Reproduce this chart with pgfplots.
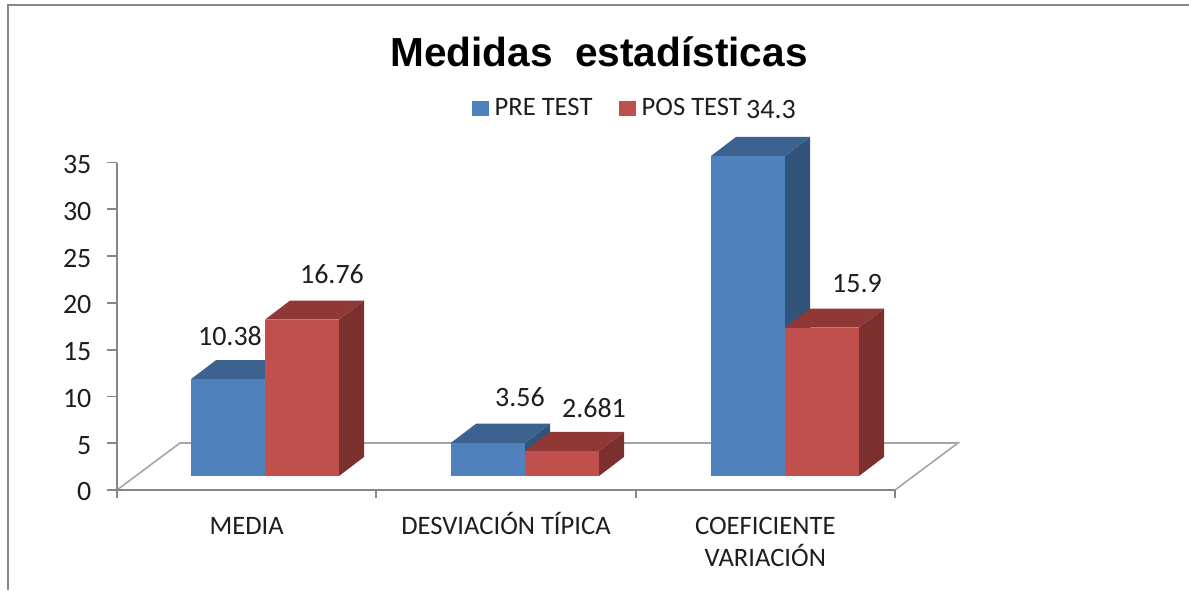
\documentclass[border=0pt]{standalone}
\usepackage{pgfplots}
\pgfplotsset{compat=1.18}
\usepackage{fontspec}
\setmainfont{Carlito}
\newfontfamily\titlefont{Liberation Sans}
\definecolor{axisgray}{RGB}{134,134,134}
\definecolor{floorgray}{RGB}{165,165,165}
\definecolor{txt}{RGB}{30,30,30}
\definecolor{bf}{RGB}{79,129,189}
\definecolor{bt}{RGB}{60,98,144}
\definecolor{bs}{RGB}{50,83,122}
\definecolor{rf}{RGB}{192,80,77}
\definecolor{rt}{RGB}{143,56,54}
\definecolor{rs}{RGB}{123,48,46}
\begin{document}
\begin{tikzpicture}
% frame and wall of the floor (first layer), data in pixels horizontally and value units vertically
\begin{axis}[name=page,at={(0pt,0pt)},anchor=south west,scale only axis,width=594.5pt,height=295pt,
  xmin=0,xmax=1189,ymin=-12.22,ymax=51.02,hide axis,clip=true]
\path (axis cs:0,-12.22) rectangle (axis cs:1189,51.02);
\addplot[axisgray,line width=1pt,forget plot] coordinates {(8.2,-12.22)(8.2,50.45)(1189,50.45)};
\addplot[floorgray,line width=0.8pt,forget plot] coordinates {(117,-1.5)(180,3.54)(958,3.54)(895,-1.5)};
\end{axis}
\begin{axis}[at={(58.5pt,50pt)},anchor=south west,scale only axis,width=389pt,height=163.75pt,
  xmin=0,xmax=3,ymin=0,ymax=35,axis x line=bottom,axis y line=left,
  axis line style={axisgray,line width=1pt,-},
  every tick/.style={axisgray,line width=0.9pt},
  tick align=outside,major tick length=4.75pt,
  ytick={0,5,10,15,20,25,30,35},xtick={0.5,1.5,2.5},
  xticklabels={\strut MEDIA,\strut DESVIACIÓN TÍPICA,{\strut COEFICIENTE\\VARIACIÓN}},
  minor xtick={0,1,2,3},minor tick length=4pt,
  major x tick style={draw=none},minor x tick style={axisgray,line width=0.9pt},
  xticklabel style={align=center,font=\fontsize{13.3}{16}\selectfont,text=txt,yshift=-3pt},
  yticklabel style={font=\fontsize{14}{16}\selectfont,text=txt,xshift=-4.5pt,yshift=-1pt},
  /pgf/number format/assume math mode=true]
\addplot[draw=none,forget plot] coordinates {(0,0)(3,35)};
\end{axis}
\begin{axis}[at={(0pt,0pt)},anchor=south west,scale only axis,width=594.5pt,height=295pt,
  xmin=0,xmax=1189,ymin=-12.22,ymax=51.02,hide axis,clip=false,
  legend style={at={(axis cs:472,39.44)},anchor=west,draw=none,fill=none,legend columns=2,
    font=\fontsize{13.3}{16}\selectfont,text=txt,inner sep=0pt,
    /tikz/every odd column/.style={column sep=1pt},
    /tikz/every even column/.style={column sep=11.5pt}}]
\addlegendimage{legend image code/.code={\fill[bf] (0pt,-3.5pt) rectangle (7.7pt,3.5pt);}}
\addlegendentry{PRE TEST}
\addlegendimage{legend image code/.code={\fill[rf] (0pt,-3.5pt) rectangle (7.7pt,3.5pt);}}
\addlegendentry{POS TEST}
% MEDIA
\addplot[fill=bt,draw=none,forget plot] coordinates {(191,10.38)(265,10.38)(290,12.42)(216,12.42)} -- cycle;
\addplot[ybar,bar width=74,bar shift=0pt,fill=bf,draw=none,forget plot] coordinates {(228,10.38)};
\addplot[fill=rs,draw=none,forget plot] coordinates {(339,0)(364,2.04)(364,18.80)(339,16.76)} -- cycle;
\addplot[fill=rt,draw=none,forget plot] coordinates {(265,16.76)(339,16.76)(364,18.80)(290,18.80)} -- cycle;
\addplot[ybar,bar width=74,bar shift=0pt,fill=rf,draw=none,forget plot] coordinates {(302,16.76)};
% DESVIACION
\addplot[fill=bs,draw=none,forget plot] coordinates {(525,0)(550,2.04)(550,5.60)(525,3.56)} -- cycle;
\addplot[fill=bt,draw=none,forget plot] coordinates {(451,3.56)(525,3.56)(550,5.60)(476,5.60)} -- cycle;
\addplot[ybar,bar width=74,bar shift=0pt,fill=bf,draw=none,forget plot] coordinates {(488,3.56)};
\addplot[fill=rs,draw=none,forget plot] coordinates {(599,0)(624,2.04)(624,4.721)(599,2.681)} -- cycle;
\addplot[fill=rt,draw=none,forget plot] coordinates {(525,2.681)(599,2.681)(624,4.721)(550,4.721)} -- cycle;
\addplot[ybar,bar width=74,bar shift=0pt,fill=rf,draw=none,forget plot] coordinates {(562,2.681)};
% COEFICIENTE
\addplot[fill=bs,draw=none,forget plot] coordinates {(785,0)(810,2.04)(810,36.34)(785,34.3)} -- cycle;
\addplot[fill=bt,draw=none,forget plot] coordinates {(711,34.3)(785,34.3)(810,36.34)(736,36.34)} -- cycle;
\addplot[ybar,bar width=74,bar shift=0pt,fill=bf,draw=none,forget plot] coordinates {(748,34.3)};
\addplot[fill=rs,draw=none,forget plot] coordinates {(859,0)(884,2.04)(884,17.94)(859,15.9)} -- cycle;
\addplot[fill=rt,draw=none,forget plot] coordinates {(785,15.9)(859,15.9)(884,17.94)(810,17.94)} -- cycle;
\addplot[ybar,bar width=74,bar shift=0pt,fill=rf,draw=none,forget plot] coordinates {(822,15.9)};
% value labels
\begin{scope}[every node/.style={font=\fontsize{14}{16}\selectfont,text=txt}]
\node at (axis cs:230,15.0) {10.38};
\node at (axis cs:332,21.65) {16.76};
\node at (axis cs:520,8.47) {3.56};
\node at (axis cs:594,7.29) {2.681};
\node at (axis cs:771,39.23) {34.3};
\node at (axis cs:857,20.58) {15.9};
\end{scope}
\node[font=\titlefont\bfseries\fontsize{20.3}{24}\selectfont,text=black] at (axis cs:599,45.45) {Medidas\ \ estadísticas};
\end{axis}
\end{tikzpicture}
\end{document}
